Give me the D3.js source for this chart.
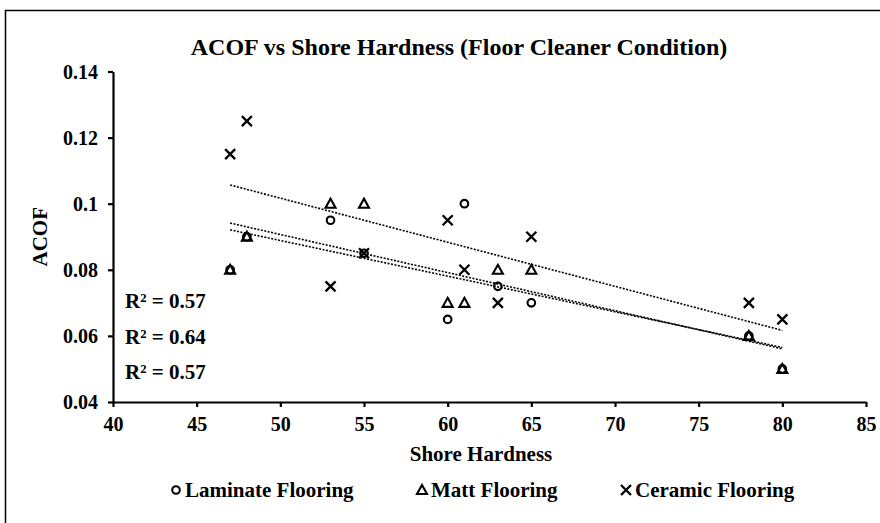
<!DOCTYPE html>
<html>
<head>
<meta charset="utf-8">
<script src="https://cdn.jsdelivr.net/npm/d3@7"></script>
<style>
html, body { margin: 0; padding: 0; background: #fff; }
svg { display: block; }
text { font-family: "Liberation Serif", "Times New Roman", serif; font-weight: bold; fill: #000; }
</style>
</head>
<body>
<div id="chart"></div>
<script>
// ---- data ----
const shoreHardness = [47, 48, 53, 55, 60, 61, 63, 65, 78, 80];
const laminateACOF = [0.08, 0.09, 0.095, 0.085, 0.065, 0.1, 0.075, 0.07, 0.06, 0.05];
const mattACOF     = [0.08, 0.09, 0.1, 0.1, 0.07, 0.07, 0.08, 0.08, 0.06, 0.05];
const ceramicACOF  = [0.115, 0.125, 0.075, 0.085, 0.095, 0.08, 0.07, 0.09, 0.07, 0.065];
const seriesNames  = ["Laminate Flooring", "Matt Flooring", "Ceramic Flooring"];
const xTicks = [40, 45, 50, 55, 60, 65, 70, 75, 80, 85];
const yTicks = [0.04, 0.06, 0.08, 0.1, 0.12, 0.14];
const chartTitle = "ACOF vs Shore Hardness (Floor Cleaner Condition)";
const xTitle = "Shore Hardness";
const yTitle = "ACOF";

const W = 880, H = 523;
const margin = { left: 113, right: 14, top: 71.5, bottom: 121 };

const svg = d3.select("#chart").append("svg").attr("width", W).attr("height", H);

// outer frame
svg.append("rect").attr("x", 5.5).attr("y", 10.5).attr("width", W).attr("height", H)
  .attr("fill", "none").attr("stroke", "#000").attr("stroke-width", 1.5);

const x = d3.scaleLinear().domain([40, 85]).range([margin.left, W - margin.right]);
const y = d3.scaleLinear().domain([0.04, 0.14]).range([H - margin.bottom, margin.top]);

// title
svg.append("text").attr("x", 459).attr("y", 55).attr("text-anchor", "middle")
  .style("font-size", "24px").text(chartTitle);

// axes
const xAxis = d3.axisBottom(x).tickValues(xTicks).tickSize(5).tickSizeOuter(0).tickFormat(d3.format("d"));
const yAxis = d3.axisLeft(y).tickValues(yTicks).tickSize(5).tickSizeOuter(0).tickFormat(d => String(+d.toFixed(2)));

const gx = svg.append("g").attr("transform", `translate(0,${y(0.04)})`).call(xAxis);
const gy = svg.append("g").attr("transform", `translate(${x(40)},0)`).call(yAxis);
[gx, gy].forEach(g => {
  g.select(".domain").attr("stroke", "#000").attr("stroke-width", 2.2);
  g.selectAll(".tick line").attr("stroke", "#000").attr("stroke-width", 2.2);
  g.selectAll(".tick text").style("font-size", "20px").style("font-family", '"Liberation Serif", serif').style("font-weight", "bold").attr("fill", "#000");
});
gx.selectAll(".tick text").attr("y", 10).attr("dy", "0.95em");
gy.selectAll(".tick text").attr("x", -15).attr("dy", "0.34em");

// axis titles
svg.append("text").attr("x", 481).attr("y", 461).attr("text-anchor", "middle")
  .style("font-size", "21px").text(xTitle);
svg.append("text").attr("transform", `translate(47,${y(0.09)}) rotate(-90)`).attr("text-anchor", "middle")
  .style("font-size", "21px").text(yTitle);

const series = [
  { name: seriesNames[0], values: laminateACOF, shape: "circle" },
  { name: seriesNames[1], values: mattACOF, shape: "triangle" },
  { name: seriesNames[2], values: ceramicACOF, shape: "cross" }
];

function regress(xs, ys) {
  const mx = d3.mean(xs), my = d3.mean(ys);
  let sxy = 0, sxx = 0, syy = 0;
  xs.forEach((xv, i) => { sxy += (xv - mx) * (ys[i] - my); sxx += (xv - mx) ** 2; syy += (ys[i] - my) ** 2; });
  const slope = sxy / sxx;
  return { slope, intercept: my - slope * mx, r2: sxy * sxy / (sxx * syy) };
}

function drawMarker(g, shape, cx, cy) {
  if (shape === "circle") {
    g.append("circle").attr("cx", cx).attr("cy", cy).attr("r", 3.8)
      .attr("fill", "none").attr("stroke", "#000").attr("stroke-width", 2.1);
  } else if (shape === "triangle") {
    const s = 5;
    g.append("path").attr("d", `M${cx},${cy - s}L${cx + s},${cy + s * 0.8}L${cx - s},${cy + s * 0.8}Z`)
      .attr("fill", "none").attr("stroke", "#000").attr("stroke-width", 2.1);
  } else {
    const s = 5;
    g.append("path").attr("d", `M${cx - s},${cy - s}L${cx + s},${cy + s}M${cx - s},${cy + s}L${cx + s},${cy - s}`)
      .attr("fill", "none").attr("stroke", "#000").attr("stroke-width", 2.3);
  }
}

// trendlines
const xMin = d3.min(shoreHardness), xMax = d3.max(shoreHardness);
const fits = series.map(s => regress(shoreHardness, s.values));
fits.forEach(f => {
  svg.append("line")
    .attr("x1", x(xMin)).attr("y1", y(f.intercept + f.slope * xMin))
    .attr("x2", x(xMax)).attr("y2", y(f.intercept + f.slope * xMax))
    .attr("stroke", "#000").attr("stroke-width", 1.6).attr("stroke-dasharray", "2,1.5");
});

// points
series.forEach(s => {
  const g = svg.append("g");
  s.values.forEach((v, i) => drawMarker(g, s.shape, x(shoreHardness[i]), y(v)));
});

// R² labels
fits.forEach((f, i) => {
  svg.append("text").attr("x", 125).attr("y", 308 + i * 35.5)
    .style("font-size", "21px").text("R² = " + f.r2.toFixed(2));
});

// legend
const legendX = [176, 422, 626];
series.forEach((s, i) => {
  const g = svg.append("g");
  drawMarker(g, s.shape, legendX[i], 490);
  g.append("text").attr("x", legendX[i] + 9).attr("y", 497).style("font-size", "21px").text(s.name);
});
</script>
</body>
</html>
